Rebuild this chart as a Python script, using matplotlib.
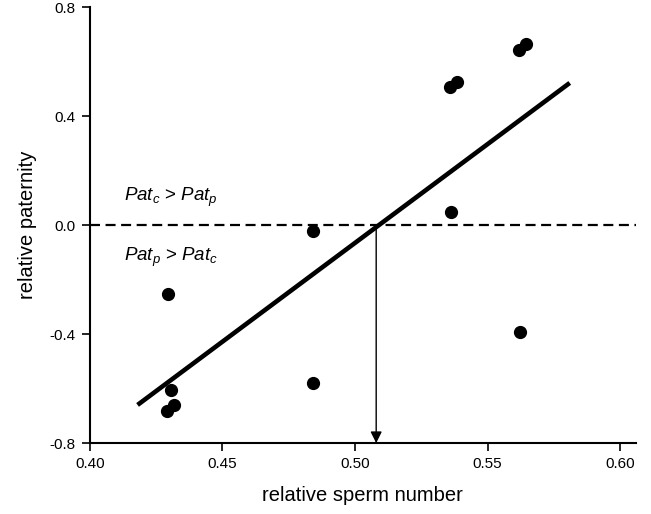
import numpy as np
import matplotlib.pyplot as plt

plt.rcParams['font.family'] = ['Liberation Sans', 'DejaVu Sans']
plt.rcParams['mathtext.fontset'] = 'custom'
plt.rcParams['mathtext.rm'] = 'Liberation Sans'
plt.rcParams['mathtext.it'] = 'Liberation Sans:italic'

# data
sperm = [0.4293, 0.4305, 0.4316, 0.4292, 0.4843, 0.4841,
         0.5358, 0.5384, 0.5361, 0.5619, 0.5645, 0.5623]
paternity = [-0.251, -0.606, -0.662, -0.682, -0.022, -0.581,
             0.508, 0.526, 0.049, 0.642, 0.664, -0.394]

fit_x = [0.418, 0.581]
fit_y = [-0.66, 0.522]

cross_x = 0.508   # where fit meets zero

xticks = [0.40, 0.45, 0.50, 0.55, 0.60]
yticks = [-0.8, -0.4, 0.0, 0.4, 0.8]

fig = plt.figure(figsize=(6.51, 5.14), dpi=100)
ax = fig.add_axes([0.138, 0.138, 0.839, 0.848])

ax.axhline(0, color='black', lw=1.6, dashes=(4.5, 2.5))
ax.plot(fit_x, fit_y, color='black', lw=3.3, solid_capstyle='butt')
ax.plot(sperm, paternity, 'o', color='black', ms=8.5)

ax.annotate('', xy=(cross_x, -0.8), xytext=(cross_x, 0),
            arrowprops=dict(arrowstyle='-|>', color='black', lw=1,
                            mutation_scale=17, shrinkA=0, shrinkB=0))

ax.text(0.413, 0.10, r'$Pat_c$ > $Pat_p$', fontsize=13.5, va='center')
ax.text(0.413, -0.12, r'$Pat_p$ > $Pat_c$', fontsize=13.5, va='center')

ax.set_xlim(0.40, 0.606)
ax.set_ylim(-0.8, 0.8)
ax.set_xticks(xticks)
ax.set_yticks(yticks)
ax.set_xticklabels(['%.2f' % v for v in xticks])
ax.set_yticklabels(['%.1f' % v for v in yticks])
ax.tick_params(direction='out', length=6, width=1.2, labelsize=11, pad=4)

for s in ['top', 'right']:
    ax.spines[s].set_visible(False)
for s in ['left', 'bottom']:
    ax.spines[s].set_linewidth(1.5)

ax.set_xlabel('relative sperm number', fontsize=14.5, labelpad=11)
ax.set_ylabel('relative paternity', fontsize=14.5, labelpad=9)

fig.savefig('out.png', dpi=100)
